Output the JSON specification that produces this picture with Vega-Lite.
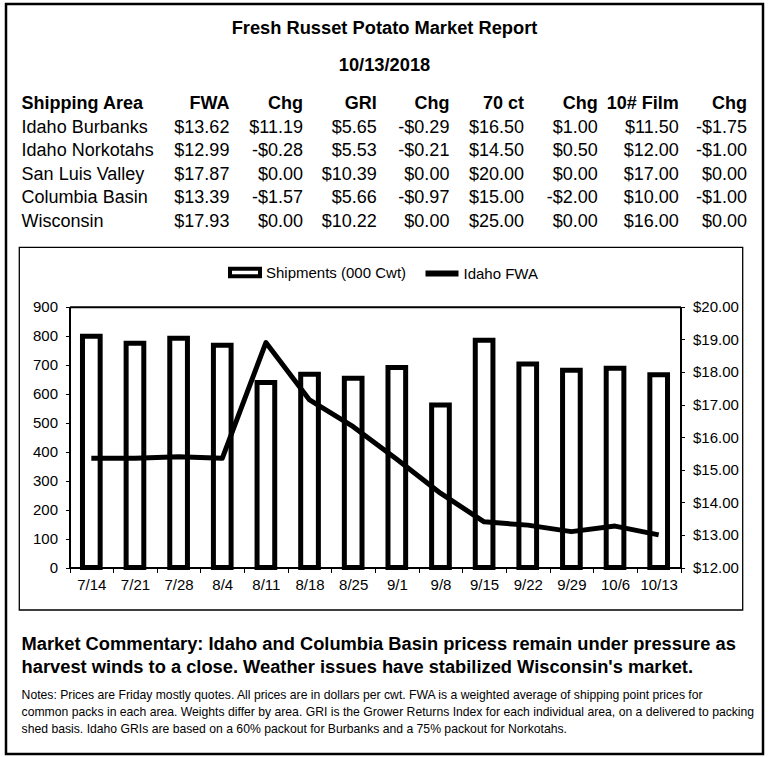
{
  "$schema": "https://vega.github.io/schema/vega-lite/v6.json",
  "width": 757,
  "height": 750,
  "autosize": {"type": "none"},
  "padding": {"left": 6, "top": 4, "right": 7, "bottom": 3},
  "background": "white",
  "title": {
    "text": "Fresh Russet Potato Market Report",
    "subtitle": "10/13/2018",
    "anchor": "middle",
    "orient": "top",
    "offset": -71,
    "fontSize": 18.3,
    "fontWeight": "bold",
    "color": "black",
    "subtitleFontSize": 18.3,
    "subtitleFontWeight": "bold",
    "subtitleColor": "black",
    "subtitlePadding": 18,
    "font": "Liberation Sans",
    "subtitleFont": "Liberation Sans"
  },
  "config": {
    "font": "Liberation Sans",
    "view": {"stroke": "black", "strokeWidth": 2.5},
    "axis": {"labelColor": "black", "tickColor": "black", "domainColor": "black", "grid": false, "labelFont": "Liberation Sans"},
    "legend": {"labelFont": "Liberation Sans", "labelColor": "black"}
  },
  "datasets": {
    "cells": [
      {"r": 0, "c": 0, "t": "Shipping Area", "role": "head"},
      {"r": 0, "c": 1, "t": "FWA", "role": "head"},
      {"r": 0, "c": 2, "t": "Chg", "role": "head"},
      {"r": 0, "c": 3, "t": "GRI", "role": "head"},
      {"r": 0, "c": 4, "t": "Chg", "role": "head"},
      {"r": 0, "c": 5, "t": "70 ct", "role": "head"},
      {"r": 0, "c": 6, "t": "Chg", "role": "head"},
      {"r": 0, "c": 7, "t": "10# Film", "role": "head"},
      {"r": 0, "c": 8, "t": "Chg", "role": "head"},
      {"r": 1, "c": 0, "t": "Idaho Burbanks", "role": "cell"},
      {"r": 1, "c": 1, "t": "$13.62", "role": "cell"},
      {"r": 1, "c": 2, "t": "$11.19", "role": "cell"},
      {"r": 1, "c": 3, "t": "$5.65", "role": "cell"},
      {"r": 1, "c": 4, "t": "-$0.29", "role": "cell"},
      {"r": 1, "c": 5, "t": "$16.50", "role": "cell"},
      {"r": 1, "c": 6, "t": "$1.00", "role": "cell"},
      {"r": 1, "c": 7, "t": "$11.50", "role": "cell"},
      {"r": 1, "c": 8, "t": "-$1.75", "role": "cell"},
      {"r": 2, "c": 0, "t": "Idaho Norkotahs", "role": "cell"},
      {"r": 2, "c": 1, "t": "$12.99", "role": "cell"},
      {"r": 2, "c": 2, "t": "-$0.28", "role": "cell"},
      {"r": 2, "c": 3, "t": "$5.53", "role": "cell"},
      {"r": 2, "c": 4, "t": "-$0.21", "role": "cell"},
      {"r": 2, "c": 5, "t": "$14.50", "role": "cell"},
      {"r": 2, "c": 6, "t": "$0.50", "role": "cell"},
      {"r": 2, "c": 7, "t": "$12.00", "role": "cell"},
      {"r": 2, "c": 8, "t": "-$1.00", "role": "cell"},
      {"r": 3, "c": 0, "t": "San Luis Valley", "role": "cell"},
      {"r": 3, "c": 1, "t": "$17.87", "role": "cell"},
      {"r": 3, "c": 2, "t": "$0.00", "role": "cell"},
      {"r": 3, "c": 3, "t": "$10.39", "role": "cell"},
      {"r": 3, "c": 4, "t": "$0.00", "role": "cell"},
      {"r": 3, "c": 5, "t": "$20.00", "role": "cell"},
      {"r": 3, "c": 6, "t": "$0.00", "role": "cell"},
      {"r": 3, "c": 7, "t": "$17.00", "role": "cell"},
      {"r": 3, "c": 8, "t": "$0.00", "role": "cell"},
      {"r": 4, "c": 0, "t": "Columbia Basin", "role": "cell"},
      {"r": 4, "c": 1, "t": "$13.39", "role": "cell"},
      {"r": 4, "c": 2, "t": "-$1.57", "role": "cell"},
      {"r": 4, "c": 3, "t": "$5.66", "role": "cell"},
      {"r": 4, "c": 4, "t": "-$0.97", "role": "cell"},
      {"r": 4, "c": 5, "t": "$15.00", "role": "cell"},
      {"r": 4, "c": 6, "t": "-$2.00", "role": "cell"},
      {"r": 4, "c": 7, "t": "$10.00", "role": "cell"},
      {"r": 4, "c": 8, "t": "-$1.00", "role": "cell"},
      {"r": 5, "c": 0, "t": "Wisconsin", "role": "cell"},
      {"r": 5, "c": 1, "t": "$17.93", "role": "cell"},
      {"r": 5, "c": 2, "t": "$0.00", "role": "cell"},
      {"r": 5, "c": 3, "t": "$10.22", "role": "cell"},
      {"r": 5, "c": 4, "t": "$0.00", "role": "cell"},
      {"r": 5, "c": 5, "t": "$25.00", "role": "cell"},
      {"r": 5, "c": 6, "t": "$0.00", "role": "cell"},
      {"r": 5, "c": 7, "t": "$16.00", "role": "cell"},
      {"r": 5, "c": 8, "t": "$0.00", "role": "cell"},
      {"r": 6, "c": 0, "t": "Market Commentary: Idaho and Columbia Basin pricess remain under pressure as", "role": "commentary"},
      {"r": 7, "c": 0, "t": "harvest winds to a close. Weather issues have stabilized Wisconsin's market.", "role": "commentary"},
      {"r": 8, "c": 0, "t": "Notes: Prices are Friday mostly quotes. All prices are in dollars per cwt. FWA is a weighted average of shipping point prices for", "role": "note"},
      {"r": 9, "c": 0, "t": "common packs in each area. Weights differ by area. GRI is the Grower Returns Index for each individual area, on a delivered to packing", "role": "note"},
      {"r": 10, "c": 0, "t": "shed basis. Idaho GRIs are based on a 60% packout for Burbanks and a 75% packout for Norkotahs.", "role": "note"}
    ],
    "weekly": [
      {"week": "7/14", "shipments": 798, "fwa": 15.35},
      {"week": "7/21", "shipments": 774, "fwa": 15.35},
      {"week": "7/28", "shipments": 791, "fwa": 15.40},
      {"week": "8/4", "shipments": 767, "fwa": 15.35},
      {"week": "8/11", "shipments": 638, "fwa": 18.90},
      {"week": "8/18", "shipments": 667, "fwa": 17.14},
      {"week": "8/25", "shipments": 653, "fwa": 16.32},
      {"week": "9/1", "shipments": 690, "fwa": 15.32},
      {"week": "9/8", "shipments": 561, "fwa": 14.28},
      {"week": "9/15", "shipments": 784, "fwa": 13.40},
      {"week": "9/22", "shipments": 702, "fwa": 13.30},
      {"week": "9/29", "shipments": 681, "fwa": 13.10},
      {"week": "10/6", "shipments": 688, "fwa": 13.27},
      {"week": "10/13", "shipments": 665, "fwa": 13.00}
    ]
  },
  "layer": [
    {
      "data": {"name": "cells"},
      "encoding": {
        "x": {"field": "c", "type": "quantitative", "axis": null,
              "scale": {"domain": [0, 1, 2, 3, 4, 5, 6, 7, 8], "range": [15.6, 223.4, 297, 370.7, 443.4, 518, 591.7, 672.8, 741], "nice": false, "zero": false}},
        "y": {"field": "r", "type": "quantitative", "axis": null,
              "scale": {"domain": [0, 5, 6, 7, 8, 10], "range": [100, 218, 641, 664, 691, 725], "nice": false, "zero": false}},
        "text": {"field": "t", "type": "nominal"}
      },
      "layer": [
        {
          "transform": [{"filter": "datum.c === 0 && datum.role === 'head'"}],
          "mark": {"type": "text", "align": "left", "baseline": "middle", "fontWeight": "bold", "fontSize": 18, "color": "black"}
        },
        {
          "transform": [{"filter": "datum.role === 'commentary'"}],
          "mark": {"type": "text", "align": "left", "baseline": "middle", "fontWeight": "bold", "fontSize": 18.3, "color": "black"}
        },
        {
          "transform": [{"filter": "datum.c === 0 && datum.role === 'cell'"}],
          "mark": {"type": "text", "align": "left", "baseline": "middle", "fontSize": 18, "color": "black"}
        },
        {
          "transform": [{"filter": "datum.role === 'note'"}],
          "mark": {"type": "text", "align": "left", "baseline": "middle", "fontSize": 12.2, "color": "black"}
        },
        {
          "transform": [{"filter": "datum.c > 0 && datum.role === 'head'"}],
          "mark": {"type": "text", "align": "right", "baseline": "middle", "fontWeight": "bold", "fontSize": 18, "color": "black"}
        },
        {
          "transform": [{"filter": "datum.c > 0 && datum.role === 'cell'"}],
          "mark": {"type": "text", "align": "right", "baseline": "middle", "fontSize": 18, "color": "black"}
        }
      ]
    },
    {
      "data": {"values": [{"panel": "chart frame"}]},
      "mark": {"type": "rect", "filled": false, "stroke": "black", "strokeWidth": 1.3},
      "encoding": {
        "x": {"datum": 0, "type": "quantitative", "axis": null, "scale": {"domain": [0, 1], "range": [13.3, 736.7], "nice": false, "zero": false}},
        "x2": {"datum": 1},
        "y": {"datum": 0, "type": "quantitative", "axis": null, "scale": {"domain": [0, 1], "range": [243.3, 606], "nice": false, "zero": false}},
        "y2": {"datum": 1}
      }
    },
    {
      "data": {"name": "weekly"},
      "layer": [
        {
          "mark": {"type": "bar", "stroke": "black", "strokeWidth": 5, "width": {"band": 0.405}},
          "encoding": {
            "x": {"field": "week", "type": "nominal", "sort": null,
                  "scale": {"range": [63.5, 674.5], "paddingInner": 0, "paddingOuter": 0},
                  "axis": {"orient": "bottom", "offset": -186.5, "title": null, "labelAngle": 0, "tickBand": "extent", "tickSize": 5, "labelPadding": 5, "labelFontSize": 15, "domainWidth": 2, "tickWidth": 1}},
            "y": {"field": "shipments", "type": "quantitative",
                  "scale": {"domain": [0, 900], "range": [563.5, 302.7], "nice": false},
                  "axis": {"orient": "left", "offset": -63.5, "title": null, "values": [0, 100, 200, 300, 400, 500, 600, 700, 800, 900], "tickSize": 4, "labelPadding": 8, "labelFontSize": 15, "domainWidth": 2, "tickWidth": 1}},
            "fill": {"datum": "Shipments (000 Cwt)", "type": "nominal", "scale": {"range": ["white"]},
                     "legend": {"orient": "none", "legendX": 222, "legendY": 251.5, "title": null, "padding": 0,
                                "symbolType": "M-1,-0.25H1V0.25H-1Z", "symbolSize": 900, "symbolStrokeColor": "black", "symbolStrokeWidth": 4,
                                "labelFontSize": 15, "labelOffset": 4}}
          }
        },
        {
          "mark": {"type": "line", "strokeWidth": 5, "strokeJoin": "round"},
          "encoding": {
            "x": {"field": "week", "type": "nominal", "sort": null,
                  "scale": {"range": [63.5, 674.5], "paddingInner": 0, "paddingOuter": 0},
                  "axis": {"orient": "top", "offset": -302.7, "title": null, "labels": false, "ticks": false, "domainWidth": 2}},
            "y": {"field": "fwa", "type": "quantitative",
                  "scale": {"domain": [12, 20], "range": [563.5, 302.7], "nice": false, "zero": false},
                  "axis": {"orient": "right", "offset": -82.5, "title": null, "format": "$.2f", "values": [12, 13, 14, 15, 16, 17, 18, 19, 20], "tickSize": 4, "labelPadding": 8, "labelFontSize": 15, "domainWidth": 2, "tickWidth": 1}},
            "stroke": {"datum": "Idaho FWA", "type": "nominal", "scale": {"range": ["black"]},
                       "legend": {"orient": "none", "legendX": 416.5, "legendY": 250, "title": null, "padding": 0,
                                  "symbolType": "stroke", "symbolSize": 1089, "symbolStrokeWidth": 6,
                                  "labelFontSize": 15, "labelOffset": 2}}
          }
        }
      ],
      "resolve": {"scale": {"y": "independent"}, "axis": {"x": "independent", "y": "independent"}}
    }
  ],
  "resolve": {"scale": {"x": "independent", "y": "independent"}}
}
